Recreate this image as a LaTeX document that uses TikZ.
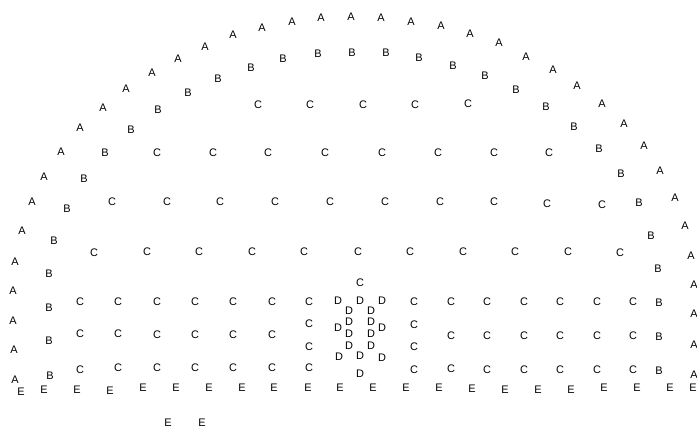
\documentclass[tikz,border=0pt]{standalone}
\usepackage{fontspec}
\setsansfont{Liberation Sans}
\tikzset{letter/.style={font=\sffamily\fontsize{11}{11}\selectfont, inner sep=0pt}}

\begin{document}
\begin{tikzpicture}[x=1bp,y=-1bp]
\useasboundingbox (0,0) rectangle (697,429);
% Outer arc
\foreach \x/\y [count=\i] in {15/380,14/350,13/321,13/291,15/262,22/231,32/202,44/177,61/152,80/128,103/108,126/89,152/73,178/59,205/47,233/35,262/28,292/22,321/18,351/17,381/18,411/22,441/26,470/34,499/43,526/57,553/70,577/86,602/104,624/124,644/146,660/171,675/198,685/226,691/256,694/285,694/314,694/345,694/375}
  \node[letter] (a\i) at (\x,\y) {A};
% Inner arc
\foreach \x/\y [count=\i] in {50/376,49/341,49/308,49/274,54/241,67/209,84/179,105/153,131/130,158/110,188/93,218/79,251/68,283/59,318/54,352/53,386/53,419/58,453/66,485/76,516/90,546/107,574/127,599/149,621/174,639/203,651/236,658/269,659/303,659/337,659/371}
  \node[letter] (b\i) at (\x,\y) {B};
% Seats
\foreach \x/\y [count=\i] in {258/105,310/105,363/105,415/105,468/104,
  157/153,213/153,268/153,325/153,382/153,438/153,494/153,549/153,
  112/202,167/202,220/202,275/202,330/202,385/202,440/202,494/202,547/204,602/205,
  94/253,147/252,199/252,252/252,304/252,358/252,410/252,463/252,515/252,568/252,620/253,
  360/283,
  80/302,118/302,157/302,195/302,233/302,272/302,309/302,414/302,451/302,487/302,524/302,560/302,597/302,633/302,
  309/324,414/325,
  80/334,118/334,157/335,195/335,233/335,272/335,451/336,487/336,524/336,560/336,597/336,633/336,
  309/347,414/347,
  80/370,118/368,157/368,195/368,233/368,272/368,309/368,414/370,451/369,487/370,524/370,560/370,597/370,633/370}
  \node[letter] (c\i) at (\x,\y) {C};
% Centre block
\foreach \x/\y [count=\i] in {338/301,360/301,382/301,349/311,371/311,349/322,371/322,338/328,382/328,
  349/334,371/334,349/346,371/346,339/357,360/356,382/358,360/374}
  \node[letter] (d\i) at (\x,\y) {D};
% Front row
\foreach \x/\y [count=\i] in {21/392,44/390,77/390,110/391,143/388,176/388,209/388,242/388,274/388,308/388,340/388,
  373/388,406/388,439/388,472/389,505/390,538/390,571/390,604/388,637/388,670/388,693/388,168/423,202/423}
  \node[letter] (e\i) at (\x,\y) {E};
\end{tikzpicture}
\end{document}
